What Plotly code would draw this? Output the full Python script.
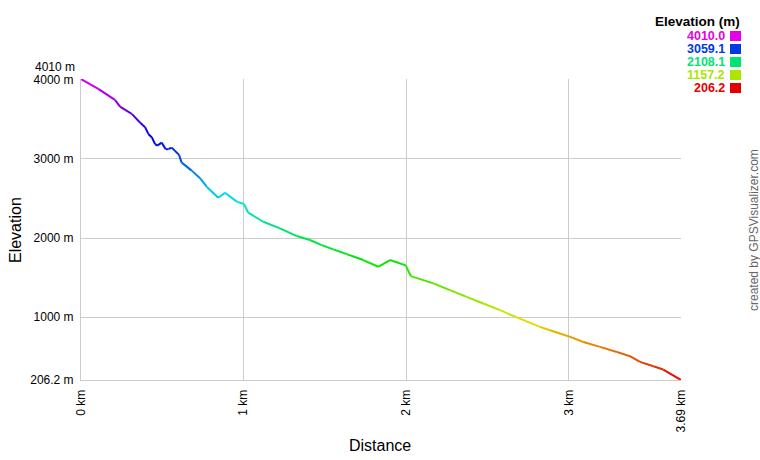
"""Elevation profile (GPSVisualizer style) in Plotly."""
import colorsys

import plotly.graph_objects as go

# distance along track (km) and elevation (m)
dist_km = [0.000, 0.106, 0.209, 0.240, 0.312, 0.363, 0.394, 0.414, 0.435, 0.455,
           0.469, 0.496, 0.521, 0.537, 0.558, 0.603, 0.619, 0.681, 0.732, 0.773,
           0.844, 0.886, 0.958, 1.002, 1.029, 1.121, 1.224, 1.327, 1.408, 1.480,
           1.552, 1.634, 1.736, 1.828, 1.900, 1.997, 2.028, 2.167, 2.269, 2.372,
           2.474, 2.577, 2.680, 2.823, 2.884, 2.997, 3.089, 3.192, 3.295, 3.376,
           3.438, 3.520, 3.581, 3.690]
elev_m = [4010, 3886, 3747, 3662, 3570, 3460, 3401, 3316, 3275, 3190,
          3168, 3206, 3123, 3123, 3143, 3051, 2953, 2852, 2756, 2649,
          2510, 2573, 2460, 2430, 2320, 2206, 2123, 2025, 1975, 1911,
          1857, 1797, 1722, 1637, 1722, 1655, 1519, 1427, 1342, 1257,
          1173, 1089, 997, 877, 835, 760, 687, 625, 561, 507,
          435, 380, 338, 206.2]

legend_values = [4010.0, 3059.1, 2108.1, 1157.2, 206.2]
y_ticks = [206.2, 1000, 2000, 3000, 4000]
y_tick_text = ["206.2 m", "1000 m", "2000 m", "3000 m", "4000 m"]
x_ticks = [0, 1, 2, 3, 3.69]
x_tick_text = ["0 km", "1 km", "2 km", "3 km", "3.69 km"]

E_MIN, E_MAX = 206.2, 4010.0
FONT = "Liberation Sans, Arial, sans-serif"


def elev_color(e):
    # hue runs from red (lowest) to magenta (highest)
    t = (e - E_MIN) / (E_MAX - E_MIN)
    r, g, b = colorsys.hsv_to_rgb(max(0.0, min(1.0, t)) * 300 / 360, 1.0, 0.9)
    return f"rgb({int(r * 255)},{int(g * 255)},{int(b * 255)})"


fig = go.Figure()
for i in range(len(dist_km) - 1):
    mid = (elev_m[i] + elev_m[i + 1]) / 2
    fig.add_trace(
        go.Scatter(
            x=dist_km[i:i + 2],
            y=elev_m[i:i + 2],
            mode="lines",
            line=dict(color=elev_color(mid), width=2),
            showlegend=False,
            hoverinfo="skip",
        )
    )

# plot area in pixels: x 81..681, y 79..380
L, R, T, B = 81, 681, 79, 380


def px(x):
    return (x - L) / (R - L)


def py(y):
    return (B - y) / (B - T)


ann = [
    dict(text="<b>Elevation (m)</b>", x=px(742), y=py(21), xanchor="right",
         yanchor="middle", font=dict(size=13.5, color="#000")),
    dict(text="4010 m", x=0, y=py(67), xanchor="right", yanchor="middle",
         xshift=-4, font=dict(size=12, color="#000")),
    dict(text="Elevation", x=px(15), y=py(230), textangle=-90, xanchor="center",
         yanchor="middle", font=dict(size=16, color="#000")),
    dict(text="Distance", x=px(380), y=py(446), xanchor="center",
         yanchor="middle", font=dict(size=16, color="#000")),
    dict(text="created by GPSVisualizer.com", x=px(754), y=py(230),
         textangle=-90, xanchor="center", yanchor="middle",
         font=dict(size=12, color="#666")),
]
shapes = []
rows = [36, 49, 62, 75, 88]
for v, row in zip(legend_values, rows):
    c = elev_color(v)
    ann.append(dict(text=f"<b>{v:.1f}</b>", x=px(727), y=py(row), xanchor="right",
                    yanchor="middle", font=dict(size=12.5, color=c)))
    shapes.append(dict(type="rect", xref="paper", yref="paper",
                       x0=px(730), x1=px(741), y0=py(row + 5), y1=py(row - 5),
                       fillcolor=c, line=dict(width=0)))
for a in ann:
    a.update(xref="paper", yref="paper", showarrow=False)

fig.update_layout(
    width=760,
    height=460,
    margin=dict(l=L, r=760 - R, t=T, b=460 - B),
    paper_bgcolor="white",
    plot_bgcolor="white",
    font=dict(family=FONT, size=12, color="#000"),
    annotations=ann,
    shapes=shapes,
    xaxis=dict(
        range=[0, 3.69],
        tickvals=x_ticks,
        ticktext=x_tick_text,
        tickangle=-90,
        showgrid=True,
        gridcolor="#cccccc",
        gridwidth=1,
        showline=True,
        linecolor="#cccccc",
        linewidth=1,
        zeroline=False,
        ticks="",
        ticklabelstandoff=4,
        fixedrange=True,
    ),
    yaxis=dict(
        range=[E_MIN, E_MAX],
        tickvals=y_ticks,
        ticktext=y_tick_text,
        showgrid=True,
        gridcolor="#cccccc",
        gridwidth=1,
        showline=True,
        linecolor="#cccccc",
        linewidth=1,
        zeroline=False,
        ticks="",
        ticklabelstandoff=4,
        fixedrange=True,
    ),
)

fig.write_html("out.html", config={"displayModeBar": False})

# drop the browser's default 8px body margin so the chart sits at (0, 0)
with open("out.html", encoding="utf-8") as f:
    page = f.read()
page = page.replace("<head>", "<head><style>body{margin:0;}</style>", 1)
with open("out.html", "w", encoding="utf-8") as f:
    f.write(page)
